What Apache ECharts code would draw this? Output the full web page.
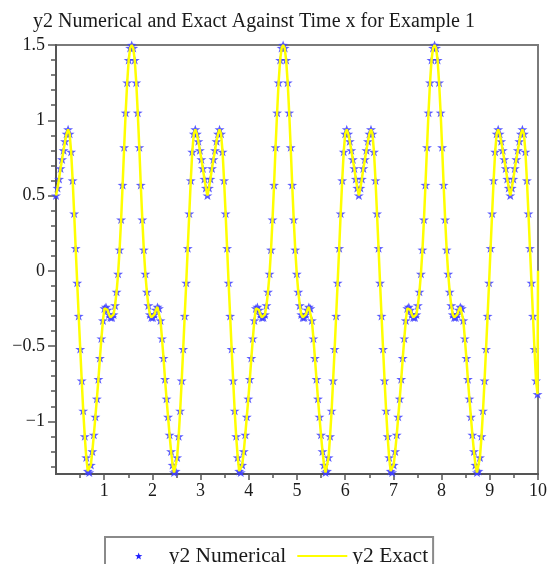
<!DOCTYPE html>
<html><head><meta charset="utf-8">
<script src="https://cdn.jsdelivr.net/npm/echarts@6/dist/echarts.min.js"></script>
<style>html,body{margin:0;padding:0;background:#fff}#c{width:550px;height:564px}</style>
</head><body><div id="c"></div>
<script>
// x positions of the samples
const xs = [
0.000,0.031,0.063,0.094,0.126,0.157,0.188,0.220,0.251,0.283,
0.314,0.346,0.377,0.408,0.440,0.471,0.503,0.534,0.565,0.597,
0.628,0.660,0.691,0.723,0.754,0.785,0.817,0.848,0.880,0.911,
0.942,0.974,1.005,1.037,1.068,1.100,1.131,1.162,1.194,1.225,
1.257,1.288,1.319,1.351,1.382,1.414,1.445,1.477,1.508,1.539,
1.571,1.602,1.634,1.665,1.696,1.728,1.759,1.791,1.822,1.854,
1.885,1.916,1.948,1.979,2.011,2.042,2.073,2.105,2.136,2.168,
2.199,2.231,2.262,2.293,2.325,2.356,2.388,2.419,2.450,2.482,
2.513,2.545,2.576,2.608,2.639,2.670,2.702,2.733,2.765,2.796,
2.827,2.859,2.890,2.922,2.953,2.985,3.016,3.047,3.079,3.110,
3.142,3.173,3.204,3.236,3.267,3.299,3.330,3.362,3.393,3.424,
3.456,3.487,3.519,3.550,3.581,3.613,3.644,3.676,3.707,3.738,
3.770,3.801,3.833,3.864,3.896,3.927,3.958,3.990,4.021,4.053,
4.084,4.115,4.147,4.178,4.210,4.241,4.273,4.304,4.335,4.367,
4.398,4.430,4.461,4.492,4.524,4.555,4.587,4.618,4.650,4.681,
4.712,4.744,4.775,4.807,4.838,4.869,4.901,4.932,4.964,4.995,
5.027,5.058,5.089,5.121,5.152,5.184,5.215,5.246,5.278,5.309,
5.341,5.372,5.404,5.435,5.466,5.498,5.529,5.561,5.592,5.623,
5.655,5.686,5.718,5.749,5.781,5.812,5.843,5.875,5.906,5.938,
5.969,6.000,6.032,6.063,6.095,6.126,6.158,6.189,6.220,6.252,
6.283,6.315,6.346,6.377,6.409,6.440,6.472,6.503,6.535,6.566,
6.597,6.629,6.660,6.692,6.723,6.754,6.786,6.817,6.849,6.880,
6.912,6.943,6.974,7.006,7.037,7.069,7.100,7.131,7.163,7.194,
7.226,7.257,7.288,7.320,7.351,7.383,7.414,7.446,7.477,7.508,
7.540,7.571,7.603,7.634,7.665,7.697,7.728,7.760,7.791,7.823,
7.854,7.885,7.917,7.948,7.980,8.011,8.042,8.074,8.105,8.137,
8.168,8.200,8.231,8.262,8.294,8.325,8.357,8.388,8.420,8.451,
8.482,8.514,8.545,8.577,8.608,8.639,8.671,8.702,8.734,8.765,
8.796,8.828,8.859,8.891,8.922,8.954,8.985,9.016,9.048,9.079,
9.111,9.142,9.174,9.205,9.236,9.268,9.299,9.331,9.362,9.393,
9.425,9.456,9.488,9.519,9.550,9.582,9.613,9.645,9.676,9.708,
9.739,9.770,9.802,9.833,9.865,9.896,9.927,9.959,9.990
];
// y2 values (numerical stars and exact curve coincide)
const yValues = [
0.50,0.55,0.61,0.68,0.74,0.80,0.86,0.91,0.94,0.91,
0.79,0.60,0.38,0.15,-0.08,-0.30,-0.52,-0.73,-0.93,-1.10,
-1.24,-1.33,-1.34,-1.29,-1.20,-1.09,-0.97,-0.85,-0.72,-0.58,
-0.45,-0.33,-0.25,-0.24,-0.26,-0.29,-0.31,-0.31,-0.29,-0.23,
-0.14,-0.02,0.14,0.34,0.57,0.82,1.05,1.25,1.40,1.48,
1.50,1.48,1.40,1.25,1.05,0.82,0.57,0.34,0.14,-0.02,
-0.14,-0.23,-0.29,-0.31,-0.31,-0.29,-0.26,-0.24,-0.25,-0.33,
-0.45,-0.58,-0.72,-0.85,-0.97,-1.09,-1.20,-1.29,-1.34,-1.33,
-1.24,-1.10,-0.93,-0.73,-0.52,-0.30,-0.08,0.15,0.38,0.60,
0.79,0.91,0.94,0.91,0.86,0.80,0.74,0.68,0.61,0.55,
0.50,0.55,0.61,0.68,0.74,0.80,0.86,0.91,0.94,0.91,
0.79,0.60,0.38,0.15,-0.08,-0.30,-0.52,-0.73,-0.93,-1.10,
-1.24,-1.33,-1.34,-1.29,-1.20,-1.09,-0.97,-0.85,-0.72,-0.58,
-0.45,-0.33,-0.25,-0.24,-0.26,-0.29,-0.31,-0.31,-0.29,-0.23,
-0.14,-0.02,0.14,0.34,0.57,0.82,1.05,1.25,1.40,1.48,
1.50,1.48,1.40,1.25,1.05,0.82,0.57,0.34,0.14,-0.02,
-0.14,-0.23,-0.29,-0.31,-0.31,-0.29,-0.26,-0.24,-0.25,-0.33,
-0.45,-0.58,-0.72,-0.85,-0.97,-1.09,-1.20,-1.29,-1.34,-1.33,
-1.24,-1.10,-0.93,-0.73,-0.52,-0.30,-0.08,0.15,0.38,0.60,
0.79,0.91,0.94,0.91,0.86,0.80,0.74,0.68,0.61,0.55,
0.50,0.55,0.61,0.68,0.74,0.80,0.86,0.91,0.94,0.91,
0.79,0.60,0.38,0.15,-0.08,-0.30,-0.52,-0.73,-0.93,-1.10,
-1.24,-1.33,-1.34,-1.29,-1.20,-1.09,-0.97,-0.85,-0.72,-0.58,
-0.45,-0.33,-0.25,-0.24,-0.26,-0.29,-0.31,-0.31,-0.29,-0.23,
-0.14,-0.02,0.14,0.34,0.57,0.82,1.05,1.25,1.40,1.48,
1.50,1.48,1.40,1.25,1.05,0.82,0.57,0.34,0.14,-0.02,
-0.14,-0.23,-0.29,-0.31,-0.31,-0.29,-0.26,-0.24,-0.25,-0.33,
-0.45,-0.58,-0.72,-0.85,-0.97,-1.09,-1.20,-1.29,-1.34,-1.33,
-1.24,-1.10,-0.93,-0.73,-0.52,-0.30,-0.08,0.15,0.38,0.60,
0.79,0.91,0.94,0.91,0.86,0.80,0.74,0.68,0.61,0.55,
0.50,0.55,0.61,0.68,0.74,0.80,0.86,0.91,0.94,0.91,
0.79,0.60,0.38,0.15,-0.08,-0.30,-0.52,-0.73,-0.82
];
// final point of the exact curve (vertical stroke at the right edge)
const exactEndX = [10.0];
const exactEndY = [0.0];

const xTickLabels = [1,2,3,4,5,6,7,8,9,10];
const xMinorTicks = [0.5,1.5,2.5,3.5,4.5,5.5,6.5,7.5,8.5,9.5];
const yTickLabels = [-1,-0.5,0,0.5,1,1.5];
const yMinorTicks = [-1.3,-1.2,-1.1,-0.9,-0.8,-0.7,-0.6,-0.4,-0.3,-0.2,-0.1,0.1,0.2,0.3,0.4,0.6,0.7,0.8,0.9,1.1,1.2,1.3,1.4];

const FONT = "'Liberation Serif','Times New Roman',serif";
const starPath = 'path://M0,-10 L2.35,-3.24 L9.51,-3.09 L3.8,1.24 L5.88,8.09 L0,4 L-5.88,8.09 L-3.8,1.24 L-9.51,-3.09 L-2.35,-3.24 Z';
const linePath = 'path://M0,0 L50,0 L50,2.2 L0,2.2 Z';

const numData = xs.map((x, i) => [x, yValues[i]]);
const exactData = xs.map((x, i) => [x, yValues[i]]).concat(exactEndX.map((x, i) => [x, exactEndY[i]]));

const chart = echarts.init(document.getElementById('c'), null, {renderer: 'canvas'});
const axisColor = '#555';
chart.setOption({
  animation: false,
  backgroundColor: '#fff',
  title: {
    text: 'y2 Numerical and Exact Against Time x for Example 1',
    left: 33, top: 12, padding: 0,
    textStyle: {fontFamily: FONT, fontSize: 20, fontWeight: 'normal', color: '#1a1a1a'}
  },
  grid: {left: 56, right: 9, top: 45, bottom: 90, show: true, borderColor: '#7a7a7a', borderWidth: 2, backgroundColor: 'transparent'},
  legend: {
    left: 105, top: 537, itemGap: 11, itemWidth: 50, itemHeight: 7,
    padding: [8, 5, 14, 30],
    borderColor: '#8a8a8a', borderWidth: 2,
    textStyle: {fontFamily: FONT, fontSize: 21.5, color: '#1a1a1a'},
    data: [
      {name: 'y2 Numerical', icon: starPath, itemStyle: {color: '#2020ff', opacity: 1}},
      {name: 'y2 Exact', icon: linePath, itemStyle: {color: '#ffff00', opacity: 1}}
    ]
  },
  xAxis: [{
    type: 'value', min: 0, max: 10,
    axisLine: {onZero: false, lineStyle: {color: axisColor, width: 2}},
    axisTick: {customValues: xTickLabels, length: 6, lineStyle: {color: axisColor, width: 1.5}},
    axisLabel: {customValues: xTickLabels, margin: 8, fontFamily: FONT, fontSize: 18, color: '#1a1a1a'},
    splitLine: {show: false}
  }, {
    type: 'value', min: 0, max: 10, position: 'bottom',
    axisLine: {show: false, onZero: false},
    axisTick: {customValues: xMinorTicks, length: 4, lineStyle: {color: axisColor, width: 1.5}},
    axisLabel: {show: false},
    splitLine: {show: false}
  }],
  yAxis: [{
    type: 'value', min: -1.35, max: 1.5,
    axisLine: {onZero: false, lineStyle: {color: axisColor, width: 2}},
    axisTick: {customValues: yTickLabels, length: 8, lineStyle: {color: axisColor, width: 1.5}},
    axisLabel: {customValues: yTickLabels, margin: 11, fontFamily: FONT, fontSize: 18, color: '#1a1a1a',
      formatter: v => v < 0 ? '\u2212' + Math.abs(v) : String(v)},
    splitLine: {show: false}
  }, {
    type: 'value', min: -1.35, max: 1.5, position: 'left',
    axisLine: {show: false, onZero: false},
    axisTick: {customValues: yMinorTicks, length: 5, lineStyle: {color: axisColor, width: 1.5}},
    axisLabel: {show: false},
    splitLine: {show: false}
  }],
  series: [{
    name: 'y2 Numerical', type: 'scatter', data: numData, clip: false,
    symbol: starPath, symbolSize: [10, 9],
    itemStyle: {color: '#4040ff', opacity: 0.85},
    z: 2
  }, {
    name: 'y2 Exact', type: 'line', data: exactData, clip: false,
    symbol: 'none', smooth: false,
    lineStyle: {color: '#ffff00', width: 2.5},
    itemStyle: {color: '#ffff00'},
    z: 3
  }]
});
</script>
</body></html>
